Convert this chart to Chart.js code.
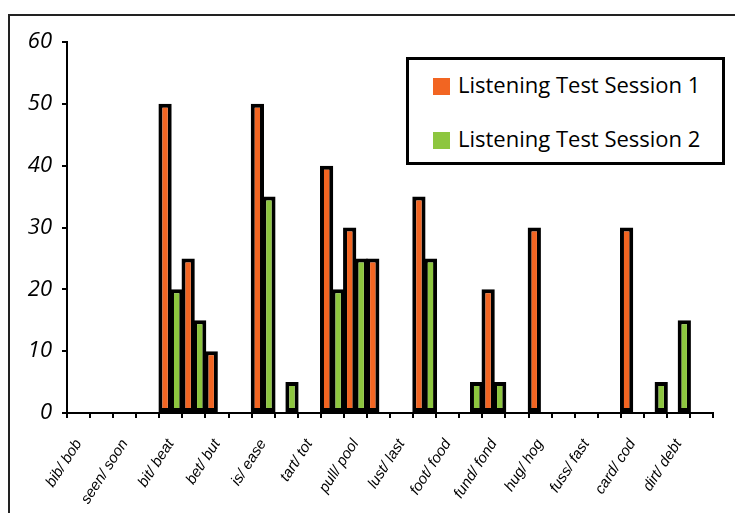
<!DOCTYPE html>
<html>
<head>
<meta charset="utf-8">
<script src="https://cdn.jsdelivr.net/npm/chart.js@4.4.1/dist/chart.umd.min.js"></script>
<style>
    html, body { margin: 0; padding: 0; background: #fff; overflow: hidden; }
    #wrap { position: relative; width: 735px; height: 513px; }
    #frame {
        position: absolute; left: 8px; top: 14px; width: 800px; height: 600px;
        border: 2px solid #222; box-sizing: border-box; pointer-events: none;
    }
    #legend {
        position: absolute; left: 406px; top: 57px; width: 319px; height: 108px;
        border: 3px solid #000; box-sizing: border-box; background: #fff;
        font-family: 'Open Sans', sans-serif; font-size: 22px; color: #000;
    }
    .item { position: absolute; left: 24px; height: 26px; line-height: 26px; white-space: nowrap; }
    .swatch { display: inline-block; width: 17px; height: 17px; vertical-align: -2px; margin-right: 8px; }
</style>
</head>
<body>
<div id="wrap">
    <canvas id="chart" width="735" height="513"></canvas>
    <div id="frame"></div>
    <div id="legend"></div>
</div>
<script>
// categories: every second slot has its label hidden in the original
const categories = [
    'bib/ bob', '', 'seen/ soon', '', 'bit/ beat', '', 'bet/ but', '',
    'is/ ease', '', 'tart/ tot', '', 'pull/ pool', '', 'lust/ last', '',
    'foot/ food', '', 'fund/ fond', '', 'hug/ hog', '', 'fuss/ fast', '',
    'card/ cod', '', 'dirt/ debt', ''
];

const session1 = [0, 0, 0, 0, 50, 25, 10, 0, 50, 0, 0, 40, 30, 25, 0, 35, 0, 0, 20, 0, 30, 0, 0, 0, 30, 0, 0, 0];
const session2 = [0, 0, 0, 0, 20, 15, 0, 0, 35, 5, 0, 20, 25, 0, 0, 25, 0, 5, 5, 0, 0, 0, 0, 0, 0, 5, 15, 0];

const yTicks = [0, 10, 20, 30, 40, 50, 60];

const seriesNames = ['Listening Test Session 1', 'Listening Test Session 2'];
const seriesColors = ['#F26522', '#8DC63F'];

// legend box (drawn as html, sits inside the plot)
function buildLegend() {
    const box = document.getElementById('legend');
    seriesNames.forEach(function(name, i) {
        const item = document.createElement('div');
        item.className = 'item';
        item.style.top = (i === 0 ? 11 : 65) + 'px';
        item.innerHTML = '<span class="swatch" style="background:' + seriesColors[i] + '"></span>' + name;
        box.appendChild(item);
    });
}

function createChart() {
    const canvas = document.getElementById('chart');

    new Chart(canvas, {
        type: 'bar',
        data: {
            labels: categories,
            datasets: [session1, session2].map(function(values, i) {
                return {
                    label: seriesNames[i],
                    data: values,
                    backgroundColor: seriesColors[i],
                    borderColor: '#000',
                    borderWidth: 4,
                    borderSkipped: false,
                    categoryPercentage: 1.0,
                    barPercentage: 1.15
                };
            })
        },
        options: {
            responsive: false,
            animation: false,
            layout: {
                padding: { top: 42, right: 17, left: 0, bottom: 0 }
            },
            plugins: {
                legend: { display: false },
                tooltip: { enabled: false }
            },
            scales: {
                x: {
                    offset: true,
                    grid: {
                        offset: true,
                        drawOnChartArea: false,
                        drawTicks: true,
                        tickLength: 5,
                        color: '#000',
                        lineWidth: 2
                    },
                    border: { display: true, color: '#000', width: 2 },
                    ticks: {
                        autoSkip: false,
                        minRotation: 57,
                        maxRotation: 57,
                        padding: 18,
                        color: '#000',
                        font: { family: 'Liberation Sans', style: 'italic', size: 15 }
                    },
                    afterFit: function(scale) { scale.height = 100; }
                },
                y: {
                    min: 0,
                    max: 60,
                    grid: {
                        drawOnChartArea: false,
                        drawTicks: true,
                        tickLength: 5,
                        color: '#000',
                        lineWidth: 2
                    },
                    border: { display: true, color: '#000', width: 2 },
                    ticks: {
                        padding: 10,
                        color: '#000',
                        font: { family: 'Open Sans', style: 'italic', size: 22 }
                    },
                    afterBuildTicks: function(scale) {
                        scale.ticks = yTicks.map(function(v) { return { value: v }; });
                    },
                    afterFit: function(scale) { scale.width = 67; }
                }
            }
        }
    });
}

buildLegend();
createChart();
</script>
</body>
</html>
